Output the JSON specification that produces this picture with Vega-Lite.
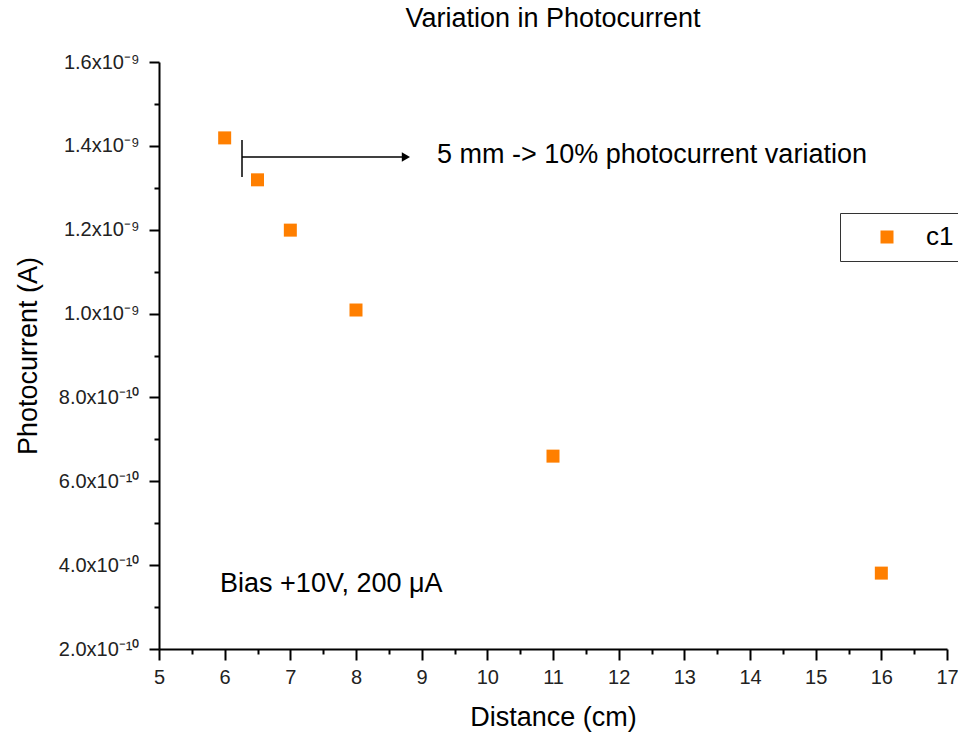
{
  "$schema": "https://vega.github.io/schema/vega-lite/v6.json",
  "width": 788,
  "height": 587,
  "autosize": {"type": "none"},
  "padding": {"left": 159, "top": 62, "right": 11, "bottom": 85},
  "background": "white",
  "config": {
    "view": {"stroke": null},
    "font": "Liberation Sans",
    "axis": {"grid": false, "domainColor": "#000", "domainWidth": 2, "tickColor": "#000", "tickWidth": 2, "labelColor": "#222", "titleColor": "#000", "titleFontWeight": "normal", "labelFont": "Liberation Sans", "titleFont": "Liberation Sans"}
  },
  "title": {"text": "Variation in Photocurrent", "fontSize": 27, "fontWeight": "normal", "font": "Liberation Sans", "color": "#000", "frame": "group", "offset": 19, "anchor": "middle"},
  "datasets": {
    "pts": [
      {"distance": 6, "current": 1.419e-9, "series": "c1"},
      {"distance": 6.5, "current": 1.319e-9, "series": "c1"},
      {"distance": 7, "current": 1.199e-9, "series": "c1"},
      {"distance": 8, "current": 1.0085e-9, "series": "c1"},
      {"distance": 11, "current": 6.6e-10, "series": "c1"},
      {"distance": 16, "current": 3.81e-10, "series": "c1"}
    ],
    "rules": [
      {"x": 6.264, "x2": 8.76, "y": 1.3734e-9, "y2": 1.3734e-9},
      {"x": 6.264, "x2": 6.264, "y": 1.414e-9, "y2": 1.3257e-9}
    ],
    "head": [{"x": 8.76, "y": 1.3734e-9}],
    "notes": [
      {"x": 9.233, "y": 1.378e-9, "label": "5 mm -> 10% photocurrent variation"},
      {"x": 5.93, "y": 3.55e-10, "label": "Bias +10V, 200 μA"}
    ]
  },
  "resolve": {"axis": {"x": "independent", "y": "independent"}},
  "layer": [
    {
      "data": {"name": "pts"},
      "mark": {"type": "point", "shape": "square", "filled": true, "size": 169, "opacity": 1},
      "encoding": {
        "x": {"field": "distance", "type": "quantitative", "scale": {"domain": [5, 17], "nice": false, "zero": false},
          "axis": {"orient": "bottom", "values": [5,6,7,8,9,10,11,12,13,14,15,16,17], "tickSize": 11, "labelFontSize": 20, "labelPadding": 7, "title": "Distance (cm)", "titleFontSize": 27, "titlePadding": 17, "labelFlush": false}},
        "y": {"field": "current", "type": "quantitative", "scale": {"domain": [2e-10, 1.6e-9], "nice": false, "zero": false},
          "axis": {"orient": "left", "values": [2e-10, 4e-10, 6e-10, 8e-10, 1e-9, 1.2e-9, 1.4e-9, 1.6e-9], "tickSize": 10, "labelFontSize": 20, "labelPadding": 10, "labelFlush": false,
            "labelExpr": "datum.value < 9.9e-10 ? format(datum.value*1e10, '.1f') + 'x10⁻¹⁰' : format(datum.value*1e9, '.1f') + 'x10⁻⁹'",
            "title": "Photocurrent (A)", "titleFontSize": 27, "titlePadding": 16}},
        "color": {"field": "series", "type": "nominal", "scale": {"range": ["#FF7F00"]},
          "legend": {"title": null, "orient": "none", "legendX": 681, "legendY": 151, "strokeColor": "#333", "padding": 11, "symbolType": "square", "symbolSize": 169, "symbolOffset": 23, "labelOffset": 26, "labelFontSize": 26, "labelColor": "#000", "labelFont": "Liberation Sans", "fillColor": "white"}}
      }
    },
    {
      "data": {"name": "rules"},
      "mark": {"type": "rule", "color": "#000", "strokeWidth": 1.5},
      "encoding": {
        "x": {"field": "x", "type": "quantitative",
          "axis": {"orient": "bottom", "values": [5.5,6.5,7.5,8.5,9.5,10.5,11.5,12.5,13.5,14.5,15.5,16.5], "labels": false, "domain": false, "tickSize": 5, "title": null}},
        "x2": {"field": "x2"},
        "y": {"field": "y", "type": "quantitative",
          "axis": {"orient": "left", "values": [3e-10, 5e-10, 7e-10, 9e-10, 1.1e-9, 1.3e-9, 1.5e-9], "labels": false, "domain": false, "tickSize": 5, "title": null}},
        "y2": {"field": "y2"}
      }
    },
    {
      "data": {"name": "head"},
      "mark": {"type": "point", "shape": "triangle-right", "filled": true, "color": "#000", "size": 90, "opacity": 1},
      "encoding": {
        "x": {"field": "x", "type": "quantitative", "axis": null},
        "y": {"field": "y", "type": "quantitative", "axis": null}
      }
    },
    {
      "data": {"name": "notes"},
      "mark": {"type": "text", "align": "left", "baseline": "middle", "fontSize": 27, "color": "#000", "font": "Liberation Sans"},
      "encoding": {
        "x": {"field": "x", "type": "quantitative", "axis": null},
        "y": {"field": "y", "type": "quantitative", "axis": null},
        "text": {"field": "label"}
      }
    }
  ]
}
